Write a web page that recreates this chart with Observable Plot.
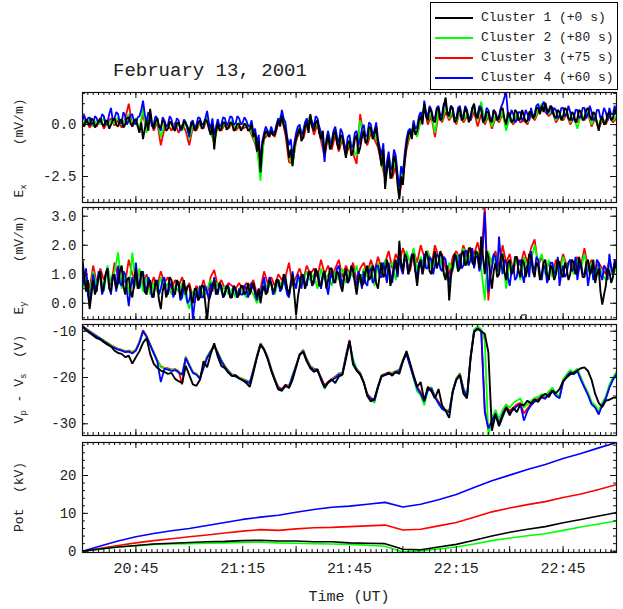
<!DOCTYPE html>
<html><head><meta charset="utf-8">
<script src="https://cdn.jsdelivr.net/npm/d3@7"></script>
<script src="https://cdn.jsdelivr.net/npm/@observablehq/plot@0.6"></script>
<style>
body{margin:0;background:#fff;}
#wrap{position:relative;width:623px;height:609px;font-family:"Liberation Mono","DejaVu Sans Mono",monospace;color:#222;overflow:hidden;background:#fff}
.abs{position:absolute;white-space:pre}
.ylab{position:absolute;transform:translate(-50%,-50%) rotate(-90deg);white-space:pre;font-size:13px;line-height:14px}
.ylab sub{font-size:9px;vertical-align:-3px;line-height:0}
#legend{position:absolute;left:430px;top:2px;width:186px;height:86px;border:1px solid #000;background:#fff}
.lrow{position:absolute;left:0;height:16px;width:186px}
.lline{position:absolute;left:4px;top:7px;width:38px;height:2px}
.ltxt{position:absolute;left:50px;top:0;font-size:13px;line-height:16px;white-space:pre}
</style></head>
<body><div id="wrap"></div>
<script>
// ---- sample times (minutes after 20:30 UT) ----
const tHalf = d3.range(0, 150.01, 0.5); // 30-s samples
const tFine = d3.range(0, 151);         // 1-min samples
const tPot = d3.range(0, 151, 5);       // 5-min samples

// ---- legend ----
const clusterNames = ["Cluster 1 (+0 s)", "Cluster 2 (+80 s)", "Cluster 3 (+75 s)", "Cluster 4 (+60 s)"];
const clusterColors = ["#000000", "#00ff00", "#ff0000", "#0000ff"];

// ---- Ex (mV/m) ----
// Cluster 1, 30-s samples
const ex1 = [0.05,-0.1,0.25,0.1,-0.05,0.3,0.2,-0.15,0.0,0.15,
0.3,0.05,-0.1,0.2,0.15,-0.2,0.0,0.2,0.3,0.0,
-0.1,0.2,0.25,-0.15,0.0,0.3,0.35,0.05,-0.1,0.2,
0.25,-0.1,-0.4,0.1,-0.7,-0.2,0.2,-0.3,0.75,0.1,
-0.2,0.15,0.3,-0.1,-0.15,0.2,0.1,-0.3,-0.2,0.15,
0.05,-0.2,-0.3,0.05,0.1,-0.2,-0.15,0.15,0.05,-0.1,
-0.4,0.0,0.1,-0.3,-0.2,0.1,0.2,-0.2,-0.1,0.25,
0.15,-0.2,-0.5,0.0,-1.2,-0.3,0.05,-0.3,-0.2,0.1,
0.1,-0.25,-0.15,0.1,0.05,-0.3,-0.2,0.05,0.0,-0.3,
-0.15,0.05,-0.05,-0.3,-0.25,0.0,-0.6,-0.4,-1.3,-0.8,
-2.3,-1.0,-0.6,-0.3,-0.45,-0.6,-0.3,-0.5,-0.5,-0.2,
0.2,-0.1,0.4,0.0,-0.3,-0.8,-1.6,-1.2,-2.0,-1.1,
-0.7,-0.4,-0.2,-0.8,-0.6,-0.1,0.1,-0.4,0.5,-0.1,
-0.3,0.1,0.2,-0.4,-0.7,-0.3,-1.4,-0.9,-0.5,-1.2,
-1.0,-0.5,-0.3,-0.9,-1.2,-0.5,-0.6,-1.1,-1.6,-0.9,
-0.8,-1.5,-1.3,-0.7,-0.5,-1.4,-1.1,-0.6,-0.3,-0.9,
-0.8,-0.1,-0.2,-0.7,-0.5,-0.1,-0.9,-1.4,-2.0,-1.2,
-3.1,-2.2,-1.6,-2.6,-2.4,-1.5,-1.8,-2.9,-3.6,-2.5,
-2.9,-1.8,-1.0,-0.5,-0.3,-0.7,0.0,-0.5,-0.3,0.2,
0.4,0.0,1.0,0.4,0.2,0.8,0.6,0.2,0.1,0.7,
0.8,0.2,0.3,0.9,1.3,0.5,0.4,0.9,0.7,0.1,
0.2,0.6,0.8,0.2,0.3,0.8,0.6,0.1,0.4,0.8,
1.0,0.4,0.3,0.8,0.7,0.1,0.2,0.6,0.6,0.2,
0.1,0.7,0.5,0.2,0.3,0.7,0.8,0.3,0.0,0.6,
0.5,0.1,0.2,0.7,0.6,0.2,0.3,0.7,0.4,0.1,
0.2,0.6,0.6,0.3,0.4,0.8,0.8,0.5,0.9,0.6,
1.05,0.7,0.6,0.9,0.8,0.4,0.3,0.7,0.6,0.2,
0.4,0.8,0.7,0.3,0.2,0.6,0.5,0.1,0.3,0.7,
0.6,0.2,0.3,0.7,0.8,0.4,0.2,0.6,0.5,0.1,
-0.3,0.2,0.4,0.0,0.1,0.5,0.6,0.2,0.3,0.7,
0.5];
// Cluster 2, 1-min samples
const ex2 = [0.1,0.0,0.25,-0.1,0.2,0.0,0.3,-0.05,0.2,0.05,
0.35,0.0,0.2,0.5,0.0,0.3,-0.3,0.8,-0.4,0.4,
-0.2,0.2,-0.6,0.0,-0.1,0.1,-0.2,0.0,-0.3,0.1,
-0.7,0.0,-0.2,0.2,-0.1,0.4,-0.3,-0.9,0.1,-0.2,
0.1,-0.1,0.2,-0.2,0.1,0.0,0.0,-0.2,-0.6,-1.1,
-2.7,-0.5,-0.4,-0.2,-0.5,0.2,0.5,-0.2,-1.4,-2.0,
-0.6,-0.1,-0.5,0.2,0.4,-0.2,0.1,-0.6,-1.3,-0.4,
-0.9,-0.2,-1.1,-0.5,-1.4,-0.7,-1.2,-1.5,0.2,-0.5,
-0.8,-0.2,-0.5,-0.9,-1.7,-2.5,-1.5,-2.3,-1.7,-3.1,
-2.2,-1.0,-0.4,-0.1,-0.6,0.3,0.9,0.2,0.5,-0.4,
0.7,0.2,0.8,0.3,0.6,0.1,0.7,0.2,0.5,0.3,
0.8,0.2,1.1,0.1,0.5,-0.1,0.4,0.2,0.6,-0.3,
0.4,0.1,0.5,0.2,0.3,0.1,0.6,0.3,0.7,1.0,
0.7,0.5,0.7,0.2,0.5,0.3,0.6,0.1,0.4,-0.2,
0.5,0.3,0.6,0.0,0.4,-0.1,0.3,0.1,0.5,0.2,
0.4];
// Cluster 3, 1-min samples
const ex3 = [0.0,0.2,-0.15,0.1,-0.1,0.25,-0.2,0.1,0.3,-0.05,
0.2,-0.15,0.3,1.0,-0.1,0.2,-0.2,0.5,-0.3,0.3,
-0.3,0.1,-1.0,-0.2,0.0,-0.3,0.1,-0.4,0.0,-0.3,
-1.0,-0.1,-0.3,0.1,-0.2,0.3,-0.4,-0.8,-0.1,-0.3,
0.0,-0.2,0.1,-0.3,-0.1,-0.2,-0.1,-0.3,-0.7,-1.2,
-2.0,-0.7,-0.5,-0.4,-0.6,0.1,0.3,-0.5,-1.8,-1.9,
-0.8,-0.3,-0.7,0.0,0.3,-0.5,0.0,-0.8,-1.5,-0.6,
-1.2,-0.5,-1.3,-0.7,-1.5,-1.0,-1.4,-1.9,0.5,-0.6,
-1.0,-0.4,-0.7,-1.1,-1.9,-2.6,-1.8,-2.6,-2.0,-3.4,
-2.5,-1.2,-0.5,-0.2,-0.5,0.2,0.8,0.0,0.4,-0.6,
0.5,0.1,0.6,0.2,0.5,0.0,0.6,0.1,0.4,0.2,
0.6,-0.1,0.5,0.0,0.4,-0.2,0.3,0.1,0.5,-0.1,
0.3,0.0,0.4,0.1,0.2,0.0,0.5,0.2,0.6,0.9,
0.6,0.4,0.6,0.1,0.4,0.2,0.5,0.0,0.3,0.1,
0.4,0.2,0.5,-0.1,0.3,-0.2,0.2,0.0,0.4,0.1,
0.3];
// Cluster 4, 30-s samples
const ex4 = [0.2,0.45,0.1,0.3,0.35,0.0,0.05,0.4,0.3,0.1,
0.15,0.5,0.4,0.0,0.1,0.5,0.8,0.2,0.3,0.6,
0.5,0.05,0.1,0.6,0.4,0.0,0.2,0.45,0.5,0.1,
0.0,0.35,0.4,0.7,1.15,0.5,0.1,0.6,0.4,-0.1,
0.0,0.4,0.3,-0.1,-0.3,0.35,0.2,-0.1,0.0,0.4,
0.25,-0.2,-0.1,0.3,0.2,-0.3,-0.2,0.25,0.1,-0.2,
-0.6,0.1,0.2,-0.2,0.0,0.35,0.3,0.0,0.05,0.3,
0.65,0.1,-0.2,0.3,-0.5,-0.1,0.25,-0.1,0.0,0.35,
0.3,-0.05,0.1,0.4,0.35,0.0,0.05,0.4,0.3,0.0,
0.1,0.35,0.2,-0.05,-0.1,0.2,-0.4,-0.2,-0.9,-0.5,
-1.9,-0.8,-0.4,-0.1,-0.3,-0.5,-0.1,-0.4,-0.35,0.0,
0.3,0.1,0.7,0.3,0.1,-0.6,-1.0,-0.7,-1.6,-0.9,
-0.4,-0.1,0.0,-0.5,-0.3,0.1,0.3,-0.2,0.4,0.1,
-0.1,0.4,0.3,-0.1,-0.4,-0.9,-1.8,-0.7,-0.3,-0.9,
-0.8,-0.3,-0.1,-0.6,-0.9,-0.2,-0.4,-0.9,-1.3,-0.6,
-0.5,-1.1,-1.0,-0.4,-0.3,-1.0,-0.7,-0.2,0.0,-0.6,
-0.5,0.1,0.0,-0.5,-0.3,0.1,-0.7,-1.1,-1.5,-0.9,
-2.6,-1.8,-1.3,-2.2,-2.0,-1.2,-1.5,-2.4,-3.0,-2.0,
-2.4,-1.4,-0.7,-0.3,-0.2,-0.5,0.2,-0.2,-0.1,0.4,
0.6,0.2,1.15,0.6,0.4,0.9,0.7,0.3,0.3,0.8,
0.9,0.4,0.5,1.0,1.0,0.6,0.5,0.9,0.8,0.3,
0.3,0.8,0.9,0.4,0.4,0.9,0.7,0.3,0.2,0.8,
0.9,0.4,0.5,0.9,0.8,0.2,0.3,0.8,0.7,0.3,
0.2,0.7,0.6,0.3,0.4,0.8,1.0,1.3,1.55,0.5,
0.3,0.7,0.5,0.1,0.2,0.6,0.6,0.2,0.3,0.7,
0.5,0.2,0.8,0.4,0.5,0.9,1.0,0.6,0.8,1.1,
0.9,0.5,0.7,0.9,0.5,0.8,0.7,0.3,0.4,0.8,
0.8,0.4,0.5,0.9,0.6,0.2,0.3,0.7,0.7,0.3,
0.4,0.8,0.8,0.3,0.5,0.9,0.6,0.2,0.3,0.7,
0.7,0.3,0.4,0.8,0.6,0.2,0.8,0.5,0.5,0.9,
0.6];

// ---- Ey (mV/m) ----
// Cluster 1, 30-s samples
const ey1 = [1.5,0.9,0.4,0.8,-0.2,0.3,0.8,0.3,0.5,0.9,
1.1,0.4,0.6,1.0,1.2,0.5,0.4,0.9,1.0,0.5,
0.7,1.1,1.3,0.6,0.3,0.8,0.9,0.4,0.2,0.7,
1.2,0.5,0.6,1.1,1.0,0.4,0.3,0.7,0.8,0.3,
0.2,0.8,0.6,0.1,-0.2,0.4,0.7,0.2,0.4,0.9,
0.8,0.4,0.3,0.8,0.7,0.2,0.5,0.8,0.3,0.6,
0.6,0.2,0.0,0.5,0.5,0.1,0.2,0.6,0.6,0.0,
-0.6,0.1,0.3,0.6,0.8,0.3,0.4,0.7,0.6,0.2,
0.3,0.6,0.5,0.2,0.2,0.6,0.5,0.2,0.3,0.6,
0.6,0.3,0.4,0.7,0.3,0.5,0.7,0.4,0.2,0.5,
0.0,0.4,0.6,0.3,0.4,0.8,0.7,0.4,0.5,0.8,
0.8,0.5,0.6,1.0,0.9,0.5,0.3,0.7,1.0,0.3,
-0.4,0.2,0.6,1.0,0.9,0.5,0.7,1.0,1.1,0.6,
0.8,1.2,1.0,0.6,0.6,1.0,1.1,0.5,0.8,1.2,
1.2,0.8,0.7,1.1,1.0,0.6,0.4,0.9,1.2,0.7,
0.9,1.3,1.1,0.7,0.3,0.8,1.0,0.6,0.7,1.1,
1.3,0.8,0.9,1.3,1.1,0.7,0.5,1.0,1.4,0.9,
1.0,1.5,1.2,0.6,0.9,1.3,1.5,1.0,2.15,1.4,
1.1,1.7,1.6,1.0,1.2,1.6,1.7,1.1,0.6,1.2,
1.5,1.0,1.3,1.8,1.6,1.1,1.0,1.5,1.8,1.2,
1.4,1.8,1.6,1.0,0.8,1.3,0.1,0.9,1.3,1.7,
1.6,1.1,1.2,1.7,1.8,1.3,1.4,1.9,1.9,1.4,
1.3,1.8,1.7,1.2,2.3,1.6,1.0,1.8,1.6,1.0,
0.5,1.1,1.4,0.9,1.0,1.6,1.7,1.1,0.8,1.4,
1.5,1.0,1.1,1.6,1.6,1.1,0.9,1.5,1.4,0.9,
1.2,1.7,1.6,1.1,0.9,1.4,1.3,0.8,1.0,1.4,
1.5,1.0,0.8,1.3,1.2,0.8,1.0,1.5,1.4,1.0,
0.9,1.4,1.2,0.8,1.0,1.5,1.4,1.0,1.1,1.6,
1.3,0.9,0.9,1.4,1.5,1.0,1.1,1.5,0.7,1.0,
1.2,0.4,-0.05,0.3,0.6,1.2,1.1,0.7,0.9,1.4,
1.2];
// Cluster 2, 1-min samples
const ey2 = [0.5,0.9,0.3,1.1,0.6,1.0,0.4,1.3,0.7,1.1,
1.75,0.5,1.0,0.3,1.75,0.6,1.2,0.4,0.9,0.3,
0.7,0.4,0.9,0.5,0.7,0.3,0.6,0.4,0.7,0.2,
-0.2,0.4,0.3,0.6,0.2,0.5,0.8,0.5,0.7,0.4,
0.6,0.3,0.5,0.2,0.5,0.4,0.2,0.5,0.3,0.0,
0.4,0.8,0.5,0.7,0.3,0.8,0.6,0.7,0.3,0.9,
0.6,0.9,0.7,1.1,0.8,1.0,0.5,1.2,0.8,1.0,
0.6,1.1,0.8,1.2,0.7,1.1,0.9,1.3,0.7,1.2,
0.9,1.3,0.6,1.4,1.0,1.5,1.2,1.4,0.8,1.6,
1.2,1.8,1.4,1.9,1.1,1.6,1.3,1.8,1.2,1.5,
1.7,1.3,0.9,1.4,1.1,1.7,1.4,1.9,1.3,1.7,
1.5,1.8,1.2,0.1,1.8,1.3,1.6,1.0,1.7,0.5,
1.4,1.2,1.5,0.8,1.6,1.2,1.5,2.0,1.4,1.7,
1.0,1.5,0.9,1.3,1.0,1.6,1.2,1.4,1.0,1.5,
1.2,1.7,1.1,1.4,0.9,1.3,1.0,0.8,1.4,1.0,
1.2];
// Cluster 3, 1-min samples
const ey3 = [0.8,1.0,0.5,1.3,0.7,1.2,0.8,1.1,0.6,1.4,
0.9,1.2,0.7,1.5,1.0,0.8,1.1,0.6,1.0,0.5,
0.9,0.6,1.1,0.7,0.9,0.5,0.8,0.6,0.9,0.4,
0.7,0.2,0.6,0.4,0.8,0.3,0.9,1.15,0.6,0.8,
0.5,0.7,0.6,0.5,0.7,0.5,0.7,0.6,0.8,0.3,
0.5,1.1,0.7,0.9,0.6,1.0,0.8,0.9,1.4,0.6,
0.9,1.2,0.8,1.3,1.0,1.2,0.9,1.5,1.0,1.3,
0.9,1.2,1.5,0.9,1.3,1.0,1.4,0.8,1.2,1.4,
1.0,1.5,1.1,1.6,1.2,1.4,1.8,1.2,1.7,1.4,
1.9,1.5,1.1,1.8,1.4,2.0,1.6,1.8,1.3,2.0,
1.6,1.7,1.2,1.0,1.6,1.8,1.5,2.0,1.6,1.9,
1.7,2.1,1.5,3.3,0.1,1.5,1.8,1.2,2.0,1.4,
1.7,1.1,1.6,1.3,1.8,1.4,1.9,2.2,1.3,1.6,
1.1,1.4,1.0,1.5,1.2,1.7,1.3,1.5,1.1,1.6,
1.3,1.9,1.2,1.5,1.0,1.4,1.2,1.0,1.5,1.1,
1.3];
// Cluster 4, 30-s samples
const ey4 = [0.6,0.9,1.2,0.3,-0.1,0.5,1.0,0.6,0.4,1.1,
0.9,0.3,0.5,1.0,1.2,0.6,0.3,1.0,0.8,0.4,
1.3,0.7,0.6,1.1,1.0,0.4,-0.1,0.5,0.9,0.5,
1.4,0.8,0.5,1.0,1.1,0.6,0.4,0.9,0.7,0.2,
0.3,0.7,0.8,0.3,0.5,0.8,0.9,0.4,0.3,0.6,
0.7,0.2,0.4,0.7,0.6,0.1,0.2,0.6,0.5,0.0,
0.1,0.4,-0.55,0.0,0.4,0.1,0.6,0.2,0.2,0.6,
0.4,0.1,0.7,0.4,0.9,0.5,0.3,0.7,0.5,0.2,
0.4,0.6,0.6,0.2,0.3,0.6,0.4,0.2,0.5,0.3,
0.3,0.6,0.5,0.2,0.4,0.7,0.6,0.3,0.1,0.5,
0.3,0.6,0.9,0.4,0.5,0.9,0.7,0.3,0.4,0.7,
0.8,0.4,0.5,0.9,0.6,0.3,0.2,0.6,1.1,0.7,
0.5,1.0,0.8,0.5,1.0,0.7,0.6,1.1,1.0,0.6,
0.7,1.1,1.1,0.8,0.5,0.9,1.0,0.6,0.3,0.8,
1.1,0.7,0.8,1.2,1.3,0.9,0.6,1.0,1.1,0.7,
0.8,1.2,1.2,0.8,0.6,1.1,0.9,0.5,1.1,0.7,
0.6,1.1,1.2,0.7,0.8,1.3,1.3,0.9,0.9,1.4,
1.1,0.7,1.4,1.0,0.7,1.2,1.3,0.9,1.6,1.2,
1.0,1.5,1.5,1.0,1.3,1.7,1.6,1.1,0.9,1.4,
1.4,1.0,1.7,1.2,1.2,1.6,1.5,1.0,1.3,1.7,
1.6,1.2,1.1,1.6,1.5,1.0,0.7,1.1,1.2,1.6,
1.5,1.1,1.7,1.2,1.3,1.8,1.8,1.3,1.5,1.9,
1.2,1.6,1.6,1.1,1.4,2.0,3.15,1.5,0.4,0.9,
1.2,1.7,1.6,1.1,2.3,1.5,1.0,1.5,1.4,0.9,
0.6,1.1,1.3,0.8,0.9,1.4,1.5,1.0,0.7,1.2,
1.3,0.9,1.8,1.3,1.1,1.6,1.5,1.0,0.8,1.3,
1.2,0.7,0.9,1.4,1.4,1.0,1.1,1.6,0.6,1.0,
1.3,0.9,1.0,1.4,1.5,1.1,1.2,1.6,0.8,1.2,
1.4,1.0,1.0,1.3,0.6,1.0,1.3,0.8,1.0,1.5,
1.4,1.0,0.8,1.3,1.2,0.8,1.7,1.2,1.0,1.5,
1.3];
const eyMarker = [{t: 124, v: -0.48}];

// ---- Vp - Vs (V), 1-min samples ----
const vp1 = [-9.0,-9.8,-10.4,-10.9,-11.5,-11.8,-12.4,-12.9,-13.3,-14.2,
-14.7,-14.9,-15.6,-15.3,-17.0,-15.6,-14.3,-12.5,-11.5,-14.9,
-17.0,-17.9,-18.5,-18.8,-19.2,-19.0,-20.3,-20.8,-21.2,-17.5,
-19.5,-21.5,-21.8,-20.5,-16.5,-17.8,-15.0,-12.6,-15.5,-17.5,
-18.0,-19.0,-19.7,-19.5,-20.2,-20.6,-21.2,-22.0,-19.0,-15.6,
-12.9,-14.0,-16.0,-18.5,-20.6,-22.6,-22.8,-21.6,-22.3,-20.5,
-17.8,-15.0,-14.5,-16.5,-18.0,-18.8,-18.2,-20.5,-22.2,-21.0,
-20.4,-21.2,-19.8,-19.4,-16.0,-12.2,-17.2,-18.5,-19.4,-21.0,
-24.0,-25.2,-24.6,-22.0,-19.7,-19.4,-19.0,-19.6,-18.8,-19.2,
-16.5,-14.3,-16.8,-19.5,-22.0,-21.0,-25.0,-22.0,-23.0,-24.5,
-22.5,-26.0,-27.2,-28.7,-23.0,-20.5,-19.5,-23.5,-24.5,-16.0,
-10.2,-9.5,-10.0,-10.6,-14.5,-31.5,-28.0,-30.5,-28.5,-26.5,
-28.2,-26.5,-27.5,-25.8,-26.0,-25.0,-25.6,-24.7,-25.3,-24.0,
-23.5,-24.2,-22.8,-23.4,-22.5,-20.8,-20.0,-19.3,-19.0,-18.5,
-18.0,-17.8,-18.6,-20.5,-23.5,-25.5,-26.4,-25.0,-24.8,-24.4,
-24.3];
const vp2 = [-9.0,-9.5,-10.0,-10.6,-11.1,-11.5,-12.1,-12.6,-13.1,-13.5,
-13.9,-14.1,-14.4,-14.3,-14.6,-14.1,-12.3,-10.1,-11.1,-12.9,
-14.6,-16.3,-17.8,-18.0,-18.2,-18.4,-18.3,-18.8,-19.2,-15.6,
-17.3,-18.9,-19.3,-20.1,-17.8,-15.6,-14.3,-13.1,-14.6,-16.3,
-17.6,-18.6,-19.4,-19.6,-20.1,-20.4,-20.7,-21.1,-18.3,-15.4,
-12.7,-13.9,-15.6,-18.2,-20.4,-22.4,-23.0,-21.8,-22.0,-19.6,
-17.4,-15.1,-14.1,-16.2,-17.6,-18.3,-18.5,-20.1,-22.5,-21.0,
-20.4,-20.0,-19.2,-19.1,-15.4,-12.5,-16.0,-18.2,-19.1,-21.1,
-23.7,-24.5,-25.5,-22.0,-19.6,-19.3,-19.0,-19.1,-18.7,-18.4,
-16.3,-14.8,-17.3,-20.2,-23.0,-23.8,-26.0,-22.6,-22.2,-24.1,
-25.8,-26.6,-27.1,-27.3,-23.0,-20.3,-19.2,-22.4,-24.1,-15.6,
-9.6,-9.0,-9.6,-12.0,-32.5,-28.8,-27.0,-29.0,-27.0,-25.8,
-26.5,-25.5,-25.0,-24.5,-26.5,-25.8,-25.0,-24.4,-24.2,-23.6,
-24.0,-23.0,-22.2,-23.5,-24.0,-20.5,-19.3,-18.4,-18.8,-18.1,
-20.0,-21.8,-23.3,-25.3,-26.0,-27.2,-25.5,-24.1,-21.6,-20.0,
-18.8];
const vp3 = [-8.9,-9.4,-10.0,-10.5,-11.0,-11.5,-12.0,-12.5,-13.0,-13.4,
-13.8,-14.0,-14.3,-14.2,-14.5,-14.0,-12.2,-9.8,-11.0,-12.8,
-14.5,-16.2,-17.6,-17.9,-18.0,-18.3,-18.2,-18.6,-21.5,-15.5,
-17.2,-18.8,-19.2,-20.0,-17.6,-15.5,-14.2,-13.0,-14.5,-16.2,
-17.5,-18.5,-19.3,-19.5,-20.0,-20.3,-20.6,-21.0,-18.2,-15.3,
-12.6,-13.8,-15.5,-18.0,-20.2,-22.0,-22.5,-21.6,-21.8,-19.5,
-17.3,-15.0,-14.0,-16.0,-17.5,-18.1,-18.3,-19.9,-21.7,-20.9,
-20.3,-19.8,-19.1,-19.0,-15.2,-11.9,-16.5,-18.1,-19.0,-21.0,
-23.5,-24.4,-24.8,-21.9,-19.5,-19.2,-18.9,-19.0,-18.6,-18.3,
-16.2,-14.6,-17.2,-19.7,-22.0,-23.2,-24.9,-22.5,-22.1,-24.0,
-25.2,-26.5,-27.0,-27.2,-22.9,-20.2,-19.1,-22.3,-24.0,-15.5,
-9.8,-9.2,-9.8,-26.8,-31.3,-29.0,-27.5,-29.6,-27.5,-26.2,
-27.2,-26.5,-25.8,-25.5,-27.8,-26.7,-25.6,-24.9,-24.6,-24.0,
-24.3,-23.3,-22.6,-23.7,-24.2,-20.7,-19.5,-18.6,-19.0,-18.3,
-20.2,-21.9,-23.5,-25.5,-26.2,-27.5,-25.7,-24.3,-21.9,-20.2,
-19.0];
const vp4 = [-9.0,-9.6,-10.1,-10.7,-11.2,-11.6,-12.2,-12.7,-13.3,-13.6,
-14.0,-14.2,-14.5,-14.4,-14.8,-14.2,-12.5,-10.0,-11.2,-13.0,
-14.8,-16.5,-21.0,-18.1,-18.3,-18.6,-18.4,-18.9,-19.4,-15.8,
-17.5,-19.0,-19.4,-20.3,-18.0,-15.8,-14.5,-13.2,-14.8,-16.5,
-17.8,-18.8,-19.6,-19.8,-20.2,-20.6,-20.9,-21.2,-18.5,-15.6,
-12.8,-14.0,-15.8,-18.4,-20.5,-22.3,-22.7,-21.9,-22.1,-19.8,
-17.6,-15.2,-14.3,-16.4,-17.8,-18.4,-18.6,-20.2,-22.0,-21.2,
-20.6,-20.1,-19.4,-19.3,-15.5,-12.1,-16.8,-18.4,-19.2,-21.2,
-23.8,-24.6,-25.0,-22.2,-19.8,-19.5,-19.2,-19.3,-18.9,-18.6,
-16.5,-14.9,-17.5,-20.0,-22.3,-23.5,-25.2,-22.8,-22.4,-24.3,
-25.5,-26.8,-27.2,-27.5,-23.2,-20.5,-19.4,-22.6,-24.3,-15.8,
-10.0,-9.4,-10.0,-27.5,-31.0,-29.5,-27.8,-30.2,-28.0,-26.5,
-27.6,-27.0,-26.2,-25.8,-29.3,-27.2,-26.0,-25.2,-24.9,-24.3,
-24.6,-23.6,-23.0,-24.0,-24.5,-21.0,-19.8,-18.9,-19.3,-18.6,
-20.5,-22.2,-23.8,-25.8,-26.5,-28.0,-26.0,-24.6,-22.2,-20.5,
-19.3];

// ---- Pot (kV), 5-min samples ----
const pot1 = [0,0.6,1.1,1.5,1.9,2.1,2.3,2.5,2.6,2.8,2.9,2.7,2.7,2.5,2.5,2.2,2.1,2.0,0.5,0.4,1.1,1.8,2.9,4.0,5.0,5.8,6.5,7.5,8.4,9.3,10.2];
const pot2 = [0,0.6,1.1,1.4,1.8,1.9,2.0,2.1,2.2,2.3,2.4,2.2,2.1,2.0,1.9,1.8,1.6,1.3,-0.2,0.1,0.6,1.1,1.9,2.8,3.5,4.1,4.6,5.5,6.4,7.2,8.0];
const pot3 = [0,0.8,1.5,2.2,2.8,3.3,3.8,4.3,4.8,5.3,5.7,5.5,5.9,6.2,6.3,6.5,6.7,6.9,5.6,5.8,6.7,7.6,9.0,10.4,11.4,12.3,13.1,14.2,15.1,16.3,17.6];
const pot4 = [0,1.4,2.7,3.8,4.7,5.4,6.0,6.8,7.6,8.4,9.0,9.5,10.3,11.0,11.6,11.9,12.4,12.9,11.7,12.4,13.6,15.0,16.8,18.6,20.1,21.6,22.9,24.5,25.8,27.3,28.7];

// ---- tick labels ----
const xLabelTicks = [15, 45, 75, 105, 135];
const exTicks = [0, -2.5];
const eyTicks = [0, 1, 2, 3];
const vpTicks = [-10, -20, -30];
const potTicks = [0, 10, 20];

// ---------------- drawing ----------------
const LEFT = 82, RIGHT = 616, W = 623;
const FONT = "Liberation Mono, DejaVu Sans Mono, monospace";
const xMajor = d3.range(0, 151, 15);
const xMinor = d3.range(0, 150.01, 1.5);
const fmtTime = t => { const m = 30 + t; return `${20 + Math.floor(m / 60)}:${String(m % 60).padStart(2, "0")}`; };

function series(timesList, arrays, widths) {
  // draw order: Cluster 3 (red), Cluster 2 (green), Cluster 4 (blue), Cluster 1 (black)
  const order = [2, 1, 3, 0];
  return order.map(i => ({
    color: clusterColors[i],
    width: widths[i],
    data: timesList[i].map((t, j) => ({t, v: arrays[i][j]}))
  }));
}

function makePanel({top, bottom, mt, mb, domain, lines, labelTicks, minorStep, fmt, xLabels, extras = []}) {
  const innerH = bottom - top, innerW = RIGHT - LEFT;
  const yMinor = d3.range(Math.ceil(domain[0] / minorStep) * minorStep, domain[1], minorStep).filter(v => v >= domain[0] && v <= domain[1]);
  const marks = [];
  for (const L of lines) marks.push(Plot.line(L.data, {x: "t", y: "v", stroke: L.color, strokeWidth: L.width, strokeLinejoin: "miter", clip: true}));
  marks.push(...extras);
  const tk = {stroke: "#111", strokeWidth: 1};
  marks.push(
    Plot.tickX(xMinor, {x: d => d, insetBottom: innerH - 3, ...tk}),
    Plot.tickX(xMinor, {x: d => d, insetTop: innerH - 3, ...tk}),
    Plot.tickX(xMajor, {x: d => d, insetBottom: innerH - 6, ...tk}),
    Plot.tickX(xMajor, {x: d => d, insetTop: innerH - 6, ...tk}),
    Plot.tickY(yMinor, {y: d => d, insetRight: innerW - 3, ...tk}),
    Plot.tickY(yMinor, {y: d => d, insetLeft: innerW - 3, ...tk}),
    Plot.tickY(labelTicks, {y: d => d, insetRight: innerW - 6, ...tk}),
    Plot.tickY(labelTicks, {y: d => d, insetLeft: innerW - 6, ...tk}),
    Plot.frame({stroke: "#111", strokeWidth: 1.2}),
    Plot.axisY(labelTicks, {label: null, tickSize: 0, tickPadding: 6, tickFormat: fmt, fontSize: 14, fill: "#222"})
  );
  if (xLabels) marks.push(Plot.axisX(xLabels, {label: null, tickSize: 0, tickPadding: 10, tickFormat: fmtTime, fontSize: 15, fill: "#222"}));
  const svg = Plot.plot({
    width: W, height: innerH + mt + mb,
    marginLeft: LEFT, marginRight: W - RIGHT, marginTop: mt, marginBottom: mb,
    x: xLabels ? {domain: [0, 150], label: null} : {domain: [0, 150], axis: null, label: null},
    y: {domain, label: null},
    marks,
    style: {fontFamily: FONT, fontSize: "14px", color: "#222", background: "transparent", overflow: "visible"}
  });
  svg.style.position = "absolute";
  svg.style.left = "0px";
  svg.style.top = (top - mt) + "px";
  return svg;
}

const wrap = document.getElementById("wrap");
const lw = [1.9, 1.8, 1.8, 1.8];

const panels = [
  {top: 92, bottom: 202, mt: 6, mb: 2, domain: [-3.75, 1.54],
   lines: series([tHalf, tFine, tFine, tHalf], [ex1, ex2, ex3, ex4], lw),
   labelTicks: exTicks, minorStep: 0.5, fmt: d => d.toFixed(1)},
  {top: 207, bottom: 319, mt: 3, mb: 2, domain: [-0.56, 3.30],
   lines: series([tHalf, tFine, tFine, tHalf], [ey1, ey2, ey3, ey4], lw),
   labelTicks: eyTicks, minorStep: 0.5, fmt: d => d.toFixed(1),
   extras: [Plot.dot(eyMarker, {x: "t", y: "v", symbol: "square", r: 2.6, stroke: "#111", fill: "white", strokeWidth: 1})]},
  {top: 324, bottom: 435, mt: 3, mb: 2, domain: [-32.53, -8.55],
   lines: series([tFine, tFine, tFine, tFine], [vp1, vp2, vp3, vp4], lw),
   labelTicks: vpTicks, minorStep: 2, fmt: d => String(d)},
  {top: 442, bottom: 552, mt: 4, mb: 32, domain: [-0.34, 28.72],
   lines: series([tPot, tPot, tPot, tPot], [pot1, pot2, pot3, pot4], [1.6, 1.6, 1.6, 1.6]),
   labelTicks: potTicks, minorStep: 2, fmt: d => String(d), xLabels: xLabelTicks}
];
for (const p of panels) wrap.appendChild(makePanel(p));

// y-axis titles (rotated)
const yTitles = [
  {html: 'E<sub>x</sub>     (mV/m)', cy: 148},
  {html: 'E<sub>y</sub>     (mV/m)', cy: 265},
  {html: 'V<sub>p</sub> - V<sub>s</sub>  (V)', cy: 379},
  {html: 'Pot  (kV)', cy: 497}
];
for (const yt of yTitles) {
  const d = document.createElement("div");
  d.className = "ylab";
  d.style.left = "20px";
  d.style.top = yt.cy + "px";
  d.innerHTML = yt.html;
  wrap.appendChild(d);
}

// title
const title = document.createElement("div");
title.className = "abs";
title.style.cssText += "left:113px;top:60px;font-size:19px;line-height:22px;";
title.textContent = "February 13, 2001";
wrap.appendChild(title);

// x-axis title
const xt = document.createElement("div");
xt.className = "abs";
xt.style.cssText += "left:349px;top:590px;font-size:15px;line-height:16px;transform:translateX(-50%);";
xt.textContent = "Time (UT)";
wrap.appendChild(xt);

// legend
const leg = document.createElement("div");
leg.id = "legend";
clusterNames.forEach((name, i) => {
  const row = document.createElement("div");
  row.className = "lrow";
  row.style.top = (7 + i * 20) + "px";
  row.innerHTML = `<div class="lline" style="background:${clusterColors[i]}"></div><div class="ltxt">${name}</div>`;
  leg.appendChild(row);
});
wrap.appendChild(leg);
</script>
</body></html>
